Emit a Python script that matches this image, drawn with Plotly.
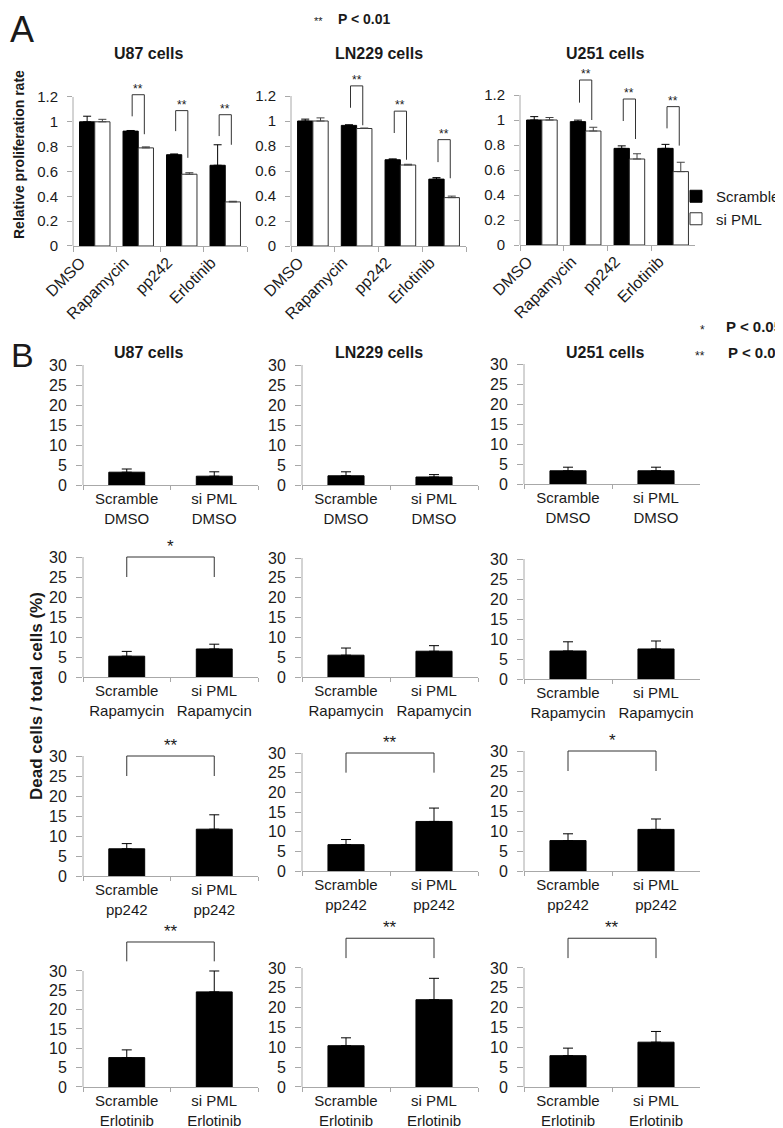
import plotly.graph_objects as go

W, H = 783, 1128
FONT = "Liberation Sans, Arial, sans-serif"
TXT = "#1a1a1a"
AXC = "#a8a8a8"

treatments = ["DMSO", "Rapamycin", "pp242", "Erlotinib"]
cell_titles = ["U87 cells", "LN229 cells", "U251 cells"]

# ---------------- Panel A: relative proliferation rate ----------------
a_u87_scramble = [1.00, 0.925, 0.735, 0.65]
a_u87_scramble_err = [0.045, 0.005, 0.006, 0.165]
a_u87_sipml = [1.00, 0.79, 0.578, 0.355]
a_u87_sipml_err = [0.02, 0.008, 0.012, 0.005]

a_ln229_scramble = [1.00, 0.965, 0.69, 0.535]
a_ln229_scramble_err = [0.015, 0.005, 0.007, 0.012]
a_ln229_sipml = [1.00, 0.94, 0.648, 0.387]
a_ln229_sipml_err = [0.025, 0.004, 0.006, 0.012]

a_u251_scramble = [1.00, 0.987, 0.773, 0.773]
a_u251_scramble_err = [0.027, 0.012, 0.02, 0.032]
a_u251_sipml = [1.00, 0.912, 0.688, 0.587]
a_u251_sipml_err = [0.02, 0.03, 0.042, 0.075]

# significance brackets (top, left foot, right foot) per treatment
a_u87_sig = ["", "**", "**", "**"]
a_u87_br_top = [None, 1.218, 1.09, 1.057]
a_u87_br_left = [None, 1.044, 0.925, 0.885]
a_u87_br_right = [None, 0.90, 0.71, 0.815]

a_ln229_sig = ["", "**", "**", "**"]
a_ln229_br_top = [None, 1.281, 1.079, 0.851]
a_ln229_br_left = [None, 1.106, 0.904, 0.671]
a_ln229_br_right = [None, 0.966, 0.69, 0.542]

a_u251_sig = ["", "**", "**", "**"]
a_u251_br_top = [None, 1.32, 1.168, 1.107]
a_u251_br_left = [None, 1.139, 0.992, 0.933]
a_u251_br_right = [None, 1.0, 0.848, 0.795]

a_ticks = [0, 0.2, 0.4, 0.6, 0.8, 1, 1.2]
a_ticktext = ["0", "0.2", "0.4", "0.6", "0.8", "1", "1.2"]

# ---------------- Panel B: dead cells / total cells (%) ----------------
b_u87_scramble = [3.2, 5.2, 6.8, 7.6]
b_u87_scramble_err = [0.8, 1.2, 1.3, 2.0]
b_u87_sipml = [2.2, 7.0, 11.7, 24.6]
b_u87_sipml_err = [1.1, 1.2, 3.6, 5.4]

b_ln229_scramble = [2.3, 5.5, 6.7, 10.4]
b_ln229_scramble_err = [1.0, 1.8, 1.3, 2.0]
b_ln229_sipml = [2.0, 6.5, 12.6, 22.0]
b_ln229_sipml_err = [0.6, 1.4, 3.4, 5.4]

b_u251_scramble = [3.3, 7.0, 7.6, 7.9]
b_u251_scramble_err = [0.9, 2.3, 1.7, 1.9]
b_u251_sipml = [3.3, 7.5, 10.4, 11.3]
b_u251_sipml_err = [0.9, 2.0, 2.6, 2.7]

b_u87_sig = ["", "*", "**", "**"]
b_ln229_sig = ["", "", "**", "**"]
b_u251_sig = ["", "", "*", "**"]
b_br_top = [30, 30, 30, 37.5]
b_br_foot = [25, 25, 25, 32.5]

b_ticks = [0, 5, 10, 15, 20, 25, 30]

# ---------------- layout geometry (pixels) ----------------
a_geom = [  # left, right, y of 0, px per unit
    (65, 239, 238, 124.2),
    (283, 458, 238, 125.0),
    (512, 687, 237, 125.0),
]
a_rmax = 1.36
b_cols = [(75, 250), (294, 470), (516, 692)]
b_rows = [  # per row: (y of 0, y of 30) per column
    [(477, 357), (477, 357), (476, 356)],
    [(669, 549), (669, 550), (671, 551)],
    [(868, 748), (863, 745), (863, 743)],
    [(1079, 963), (1079, 960), (1079, 960)],
]
b_rmax = [30.6, 30.6, 30.6, 38.3]


def pxx(x):
    return x / W


def pxy(y):
    return 1 - y / H


fig = go.Figure()
layout = {}
shapes = []
annotations = []
k = 0


def axnames(k):
    s = "" if k == 1 else str(k)
    return "x" + s, "y" + s, "xaxis" + s, "yaxis" + s


def add_bracket(xn, yn, x0, x1, top, f0, f1, sig, size, yshift):
    shapes.append(dict(type="path", xref=xn, yref=yn,
                       path=f"M {x0},{f0} L {x0},{top} L {x1},{top} L {x1},{f1}",
                       line=dict(color="#333", width=1)))
    annotations.append(dict(xref=xn, yref=yn, x=(x0 + x1) / 2, y=top, text=sig,
                            showarrow=False, yanchor="bottom", yshift=yshift,
                            font=dict(size=size, color=TXT, family=FONT)))


# Panel A subplots
a_scr = [a_u87_scramble, a_ln229_scramble, a_u251_scramble]
a_scr_e = [a_u87_scramble_err, a_ln229_scramble_err, a_u251_scramble_err]
a_si = [a_u87_sipml, a_ln229_sipml, a_u251_sipml]
a_si_e = [a_u87_sipml_err, a_ln229_sipml_err, a_u251_sipml_err]
a_sig = [a_u87_sig, a_ln229_sig, a_u251_sig]
a_top = [a_u87_br_top, a_ln229_br_top, a_u251_br_top]
a_lf = [a_u87_br_left, a_ln229_br_left, a_u251_br_left]
a_rf = [a_u87_br_right, a_ln229_br_right, a_u251_br_right]
off = 0.14

for c in range(3):
    k += 1
    xn, yn, xa, ya = axnames(k)
    l, r, y0, ppu = a_geom[c]
    fig.add_trace(go.Bar(x=treatments, y=a_scr[c], name="Scramble", xaxis=xn, yaxis=yn,
                         marker=dict(color="black", line=dict(color="black", width=1)),
                         error_y=dict(type="data", symmetric=False, array=a_scr_e[c],
                                      arrayminus=[0] * 4, color="black", thickness=1, width=4),
                         showlegend=(c == 0), legendgroup="scr"))
    fig.add_trace(go.Bar(x=treatments, y=a_si[c], name="si PML", xaxis=xn, yaxis=yn,
                         marker=dict(color="white", line=dict(color="#333", width=1)),
                         error_y=dict(type="data", symmetric=False, array=a_si_e[c],
                                      arrayminus=[0] * 4, color="#444", thickness=1, width=4),
                         showlegend=(c == 0), legendgroup="si"))
    layout[xa] = dict(domain=[pxx(l), pxx(r)], anchor=yn, type="category",
                      showline=True, linecolor=AXC, linewidth=1, ticks="outside",
                      tickson="boundaries", ticklen=5, tickcolor=AXC, tickangle=-45,
                      ticklabelshift=-14, automargin=False,
                      tickfont=dict(size=16, color=TXT, family=FONT), showgrid=False)
    layout[ya] = dict(domain=[pxy(y0), pxy(y0 - a_rmax * ppu)], anchor=xn,
                      range=[0, a_rmax], tickvals=a_ticks, ticktext=a_ticktext,
                      ticks="outside", ticklen=5, tickcolor=AXC, showline=False,
                      showgrid=False, zeroline=False, ticklabelstandoff=6,
                      automargin=False,
                      tickfont=dict(size=15, color=TXT, family=FONT))
    shapes.append(dict(type="line", xref=xn + " domain", yref=yn, x0=0, x1=0,
                       y0=0, y1=a_ticks[-1], line=dict(color=AXC, width=1)))
    for i in range(4):
        if a_sig[c][i]:
            add_bracket(xn, yn, i - off, i + off, a_top[c][i], a_lf[c][i], a_rf[c][i],
                        a_sig[c][i], 12, -3)

# Panel B subplots
b_scr = [b_u87_scramble, b_ln229_scramble, b_u251_scramble]
b_scr_e = [b_u87_scramble_err, b_ln229_scramble_err, b_u251_scramble_err]
b_si = [b_u87_sipml, b_ln229_sipml, b_u251_sipml]
b_si_e = [b_u87_sipml_err, b_ln229_sipml_err, b_u251_sipml_err]
b_sig = [b_u87_sig, b_ln229_sig, b_u251_sig]

for rrow in range(4):
    t = treatments[rrow]
    for c in range(3):
        k += 1
        xn, yn, xa, ya = axnames(k)
        l, r = b_cols[c]
        y0, y30 = b_rows[rrow][c]
        ppu = (y0 - y30) / 30.0
        cats = [f"Scramble<br>{t}", f"si PML<br>{t}"]
        fig.add_trace(go.Bar(x=cats, y=[b_scr[c][rrow], b_si[c][rrow]], width=0.41,
                             xaxis=xn, yaxis=yn, showlegend=False,
                             marker=dict(color="black", line=dict(color="black", width=1)),
                             error_y=dict(type="data", symmetric=False,
                                          array=[b_scr_e[c][rrow], b_si_e[c][rrow]],
                                          arrayminus=[0, 0], color="black",
                                          thickness=1, width=5)))
        layout[xa] = dict(domain=[pxx(l), pxx(r)], anchor=yn, type="category",
                          showline=True, linecolor=AXC, linewidth=1, ticks="outside",
                          tickson="boundaries", ticklen=4, tickcolor=AXC, tickangle=0,
                          automargin=False,
                          tickfont=dict(size=15, color=TXT, family=FONT), showgrid=False)
        layout[ya] = dict(domain=[pxy(y0), pxy(y0 - b_rmax[rrow] * ppu)], anchor=xn,
                          range=[0, b_rmax[rrow]], tickvals=b_ticks,
                          ticks="outside", ticklen=6, tickcolor=AXC, showline=False,
                          showgrid=False, zeroline=False, ticklabelstandoff=6,
                          automargin=False,
                          tickfont=dict(size=16, color=TXT, family=FONT))
        shapes.append(dict(type="line", xref=xn + " domain", yref=yn, x0=0, x1=0,
                           y0=0, y1=b_ticks[-1], line=dict(color=AXC, width=1)))
        if b_sig[c][rrow]:
            add_bracket(xn, yn, 0, 1, b_br_top[rrow], b_br_foot[rrow], b_br_foot[rrow],
                        b_sig[c][rrow], 17, -1)


def txt(x, y, text, size, bold=False, angle=0, xanchor="center"):
    annotations.append(dict(xref="paper", yref="paper", x=pxx(x), y=pxy(y),
                            text=f"<b>{text}</b>" if bold else text, showarrow=False,
                            textangle=angle, xanchor=xanchor, yanchor="middle",
                            font=dict(size=size, color=TXT, family=FONT)))


# panel letters
txt(14, 22, "A", 36)
txt(14, 347, "B", 34)
# titles
title_x = [140, 371, 597]
for c in range(3):
    txt(title_x[c], 46, cell_titles[c], 16, bold=True)
    txt(title_x[c], 344, cell_titles[c], 16, bold=True)
# p-value keys
txt(310, 13, "**", 11)
txt(328, 11, "P < 0.01", 14, bold=True, xanchor="left")
txt(694, 322, "*", 12)
txt(716, 318, "P < 0.05", 15, bold=True, xanchor="left")
txt(692, 348, "**", 12)
txt(718, 344, "P < 0.01", 15, bold=True, xanchor="left")
# y-axis titles
txt(11, 147, "Relative proliferation rate", 14, bold=True, angle=-90)
txt(28, 688, "Dead cells / total cells (%)", 17, bold=True, angle=-90)

fig.update_layout(
    width=W, height=H, margin=dict(l=0, r=0, t=0, b=0, autoexpand=False),
    paper_bgcolor="white", plot_bgcolor="white",
    barmode="group", bargap=0.3, bargroupgap=0,
    font=dict(family=FONT, color=TXT),
    shapes=shapes, annotations=annotations,
    legend=dict(x=pxx(668), y=pxy(172), xanchor="left", yanchor="top",
                font=dict(size=15, color=TXT, family=FONT), bgcolor="rgba(0,0,0,0)",
                tracegroupgap=0, itemwidth=30),
    **layout,
)

fig.write_html("out.html")
